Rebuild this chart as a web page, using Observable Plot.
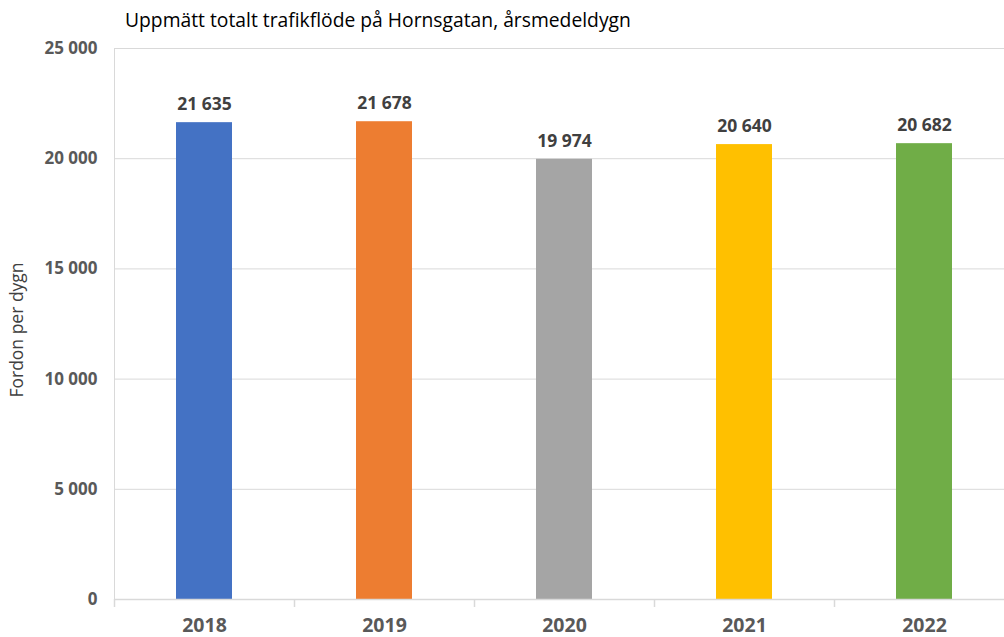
<!DOCTYPE html>
<html>
<head>
<meta charset="utf-8">
<script src="https://cdn.jsdelivr.net/npm/d3@7"></script>
<script src="https://cdn.jsdelivr.net/npm/@observablehq/plot@0.6"></script>
<style>
  html, body { margin: 0; padding: 0; background: #fff; }
  #title { height: 30px; line-height: 40px; padding-left: 125px; font-family: "Open Sans", sans-serif; font-size: 19.3px; color: #000; white-space: nowrap; overflow: visible; }
</style>
</head>
<body>
<div id="title">Uppmätt totalt trafikflöde på Hornsgatan, årsmedeldygn</div>
<div id="chart"></div>
<script>
const years = ["2018", "2019", "2020", "2021", "2022"];
const values = [21635, 21678, 19974, 20640, 20682];
const colors = ["#4472C4", "#ED7D31", "#A5A5A5", "#FFC000", "#70AD47"];
const yTicks = [0, 5000, 10000, 15000, 20000, 25000];
const yLabel = "Fordon per dygn";

const data = years.map((y, i) => ({year: y, value: values[i], color: colors[i]}));
const fmt = v => d3.format(",")(v).replace(/,/g, " ");
const grid = "#d9d9d9";

const chart = Plot.plot({
  width: 1004,
  height: 607,
  marginTop: 18,
  marginBottom: 38,
  marginLeft: 114,
  marginRight: 0,
  style: {fontFamily: "Open Sans, sans-serif", background: "#fff"},
  x: {domain: years, range: [114, 1014], paddingInner: 0.689, paddingOuter: 0.3445, align: 0.5},
  y: {domain: [0, 25000]},
  marks: [
    Plot.ruleY(yTicks.slice(1), {stroke: grid, strokeWidth: 1}),
    Plot.frame({anchor: "left", stroke: grid}),
    Plot.barY(data, {x: "year", y: "value", fill: "color"}),
    Plot.ruleY([0], {stroke: grid, strokeWidth: 1.5}),
    Plot.ruleX(years, {x: d => d, dx: -90, y1: 0, y2: -363, stroke: grid, strokeWidth: 1.5}),
    Plot.text(data, {x: "year", y: "value", text: d => fmt(d.value), dy: -18, fill: "#404040", fontWeight: "bold", fontSize: 17.5}),
    Plot.axisY({ticks: yTicks, tickFormat: fmt, tickSize: 0, tickPadding: 17, fontSize: 17, fontWeight: "bold", color: "#595959", label: null}),
    Plot.axisX({tickSize: 0, tickPadding: 19, fontSize: 19.5, fontWeight: "bold", color: "#595959", label: null}),
    Plot.text([yLabel], {frameAnchor: "left", textAnchor: "middle", rotate: -90, dx: -97, dy: 6, fill: "#404040", fontSize: 17.5})
  ]
});
document.getElementById("chart").appendChild(chart);
</script>
</body>
</html>
